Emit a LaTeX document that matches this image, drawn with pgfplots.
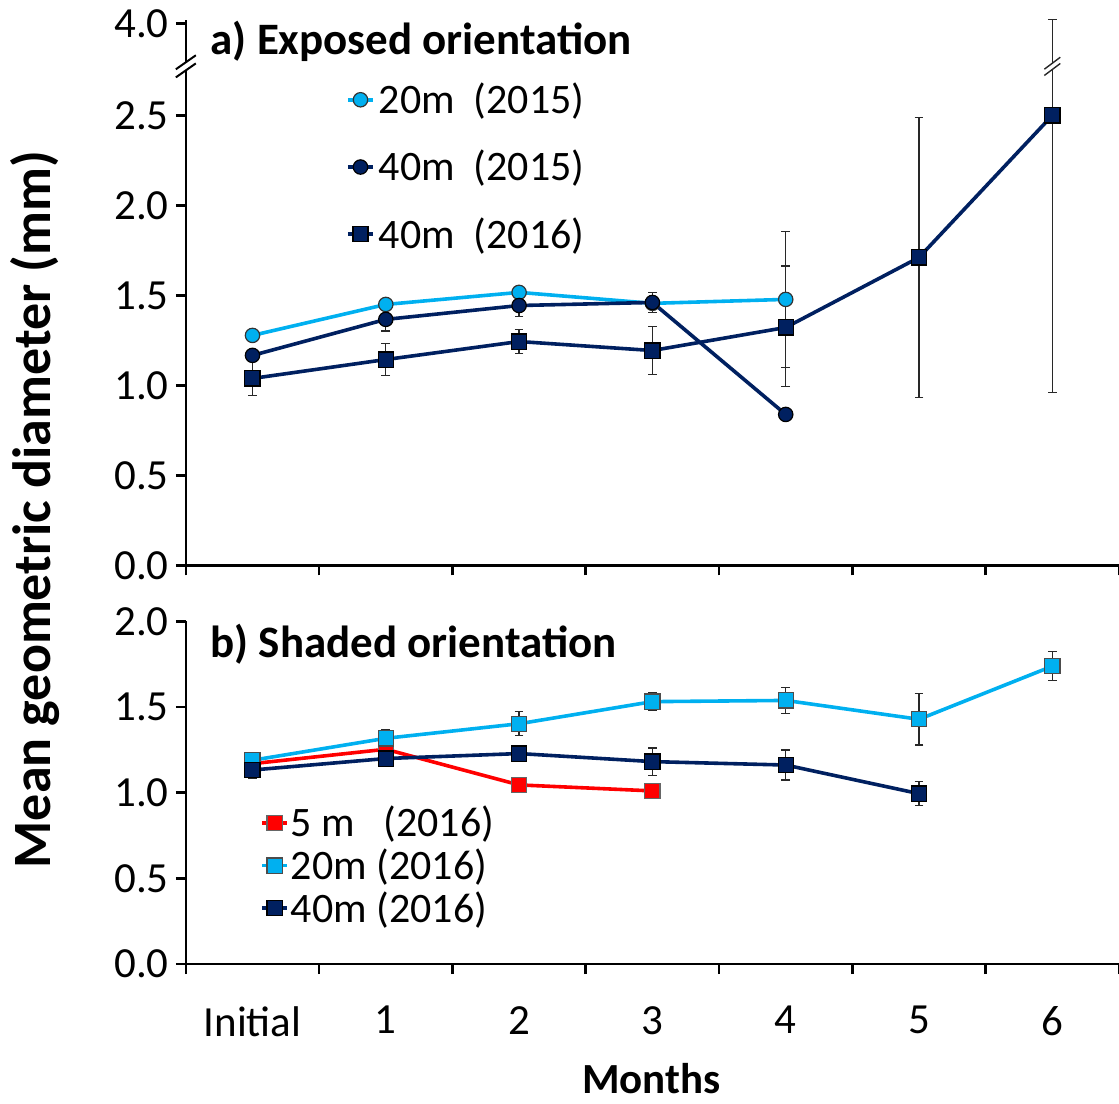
\documentclass[border=0pt]{standalone}
\usepackage{pgfplots}
\pgfplotsset{compat=1.18}
\usepackage{fontspec}
\setmainfont{Carlito}
\definecolor{lb}{RGB}{0,176,240}
\definecolor{nv}{RGB}{0,32,96}
\definecolor{rd}{RGB}{255,0,0}
\definecolor{errc}{RGB}{40,40,40}
\pgfplotsset{
 mystyle/.style={
  scale only axis, width=467pt,
  xmin=-0.5, xmax=6.5,
  axis x line=bottom, axis y line=left,
  axis line style={-, line width=1.3pt},
  tick align=outside,
  major tick length=5pt,
  tick style={line width=1.3pt, black},
  xtick={-0.5,0.5,1.5,2.5,3.5,4.5,5.5,6.5},
  ticklabel style={font=\fontsize{21.5}{25}\selectfont},
  clip=false,
  legend cell align=left,
  legend style={draw=none, fill=none, font=\fontsize{21}{25}\selectfont},
  legend image code/.code={\draw[mark repeat=2,mark phase=2,##1] plot coordinates {(0cm,0cm) (0.22cm,0cm) (0.44cm,0cm)};},
 },
 ebars/.style={error bars/y dir=both, error bars/y explicit,
  error bars/error bar style={line width=0.7pt, draw=errc, color=errc},
  error bars/error mark options={rotate=90, mark size=2.2pt, line width=0.7pt, draw=errc, color=errc}},
 circ/.style={line width=1.8pt, mark=*, mark size=3.6pt},
 sq/.style={line width=1.8pt, mark=square*, mark size=3.8pt},
}
\begin{document}
\begin{tikzpicture}
\useasboundingbox (-93pt,-269pt) rectangle (467pt,283pt);
% ---------- top panel ----------
\begin{axis}[mystyle, at={(0pt,0pt)}, anchor=south west, height=273pt,
  ymin=0, ymax=3.03,
  ytick={0,0.5,1,1.5,2,2.5,3.01},
  yticklabels={0.0,0.5,1.0,1.5,2.0,2.5,4.0},
  xticklabels={},
  legend style={at={(0.165,0.9)}, anchor=north west, row sep=12.8pt}]
\addplot+[circ, ebars, color=lb, mark options={fill=lb, draw=black!80, line width=0.6pt}] coordinates {
 (0,1.278) +- (0,0) (1,1.45) +- (0,0) (2,1.517) +- (0,0) (3,1.456) +- (0,0) (4,1.478) +- (0,0.377)};
\addlegendentry{20m\ \ (2015)}
\addplot+[circ, ebars, color=nv, mark options={fill=nv, draw=black, line width=0.6pt}] coordinates {
 (0,1.167) +- (0,0.03) (1,1.367) +- (0,0.065) (2,1.444) +- (0,0.06) (3,1.461) +- (0,0.055) (4,0.839) +- (0,0)};
\addlegendentry{40m\ \ (2015)}
\addplot+[sq, ebars, color=nv, mark options={fill=nv, draw=black, line width=0.6pt}] coordinates {
 (0,1.039) +- (0,0.094) (1,1.144) +- (0,0.09) (2,1.244) +- (0,0.066) (3,1.194) +- (0,0.133)
 (4,1.322) += (0,0.341) -= (0,0.328) (5,1.711) +- (0,0.778) (6,2.5) += (0,0.533) -= (0,1.539)};
\addlegendentry{40m\ \ (2016)}
% axis break
\fill[white] ([xshift=-4pt]axis cs:-0.5,2.75) rectangle ([xshift=4pt]axis cs:-0.5,2.795);
\draw[line width=1pt] ([xshift=-5pt,yshift=-3.5pt]axis cs:-0.5,2.75) -- ([xshift=5pt,yshift=3.5pt]axis cs:-0.5,2.75);
\draw[line width=1pt] ([xshift=-5pt,yshift=-3.5pt]axis cs:-0.5,2.795) -- ([xshift=5pt,yshift=3.5pt]axis cs:-0.5,2.795);
% error bar break
\fill[white] ([xshift=-3pt]axis cs:6,2.755) rectangle ([xshift=3pt]axis cs:6,2.79);
\draw[line width=0.7pt, errc] ([xshift=-4pt,yshift=-3pt]axis cs:6,2.755) -- ([xshift=4pt,yshift=3pt]axis cs:6,2.755);
\draw[line width=0.7pt, errc] ([xshift=-4pt,yshift=-3pt]axis cs:6,2.79) -- ([xshift=4pt,yshift=3pt]axis cs:6,2.79);
\node[anchor=west, font=\fontsize{22.5}{26}\selectfont\bfseries] at (rel axis cs:0.019,0.96) {a) Exposed orientation};
\end{axis}
% ---------- bottom panel ----------
\begin{axis}[mystyle, at={(0pt,-199.5pt)}, anchor=south west, height=171.5pt,
  ymin=0, ymax=2,
  ytick={0,0.5,1,1.5,2},
  yticklabels={0.0,0.5,1.0,1.5,2.0},
  xticklabels={Initial,1,2,3,4,5,6,{}},
  xticklabel style={xshift=33.357pt, yshift=-12.5pt},
  legend style={at={(0.073,0.48)}, anchor=north west, row sep=2.5pt, nodes={inner sep=1pt}}]
\addplot+[sq, color=rd, mark options={fill=rd, draw=black!60, line width=0.6pt}] coordinates {
 (0,1.17) (1,1.254) (2,1.046) (3,1.011)};
\addlegendentry{5 m\ \ \ (2016)}
\addplot+[sq, ebars, color=lb, mark options={fill=lb, draw=black!70, line width=0.6pt}] coordinates {
 (0,1.19) +- (0,0.03) (1,1.318) +- (0,0.05) (2,1.403) +- (0,0.07) (3,1.532) +- (0,0.05)
 (4,1.539) +- (0,0.075) (5,1.429) +- (0,0.15) (6,1.739) +- (0,0.085)};
\addlegendentry{20m\ (2016)}
\addplot+[sq, ebars, color=nv, mark options={fill=nv, draw=black, line width=0.6pt}] coordinates {
 (0,1.133) +- (0,0.05) (1,1.2) +- (0,0.045) (2,1.229) +- (0,0.048) (3,1.182) +- (0,0.08)
 (4,1.162) +- (0,0.088) (5,0.995) +- (0,0.07)};
\addlegendentry{40m\ (2016)}
\node[anchor=west, font=\fontsize{22.5}{26}\selectfont\bfseries] at (rel axis cs:0.019,0.935) {b) Shaded orientation};
\end{axis}
\node[rotate=90, font=\fontsize{27}{32}\selectfont\bfseries] at (-75.5pt,28pt) {Mean geometric diameter (mm)};
\node[inner sep=0pt, font=\fontsize{21.5}{26}\selectfont\bfseries] at (233pt,-257pt) {Months};
\end{tikzpicture}
\end{document}
